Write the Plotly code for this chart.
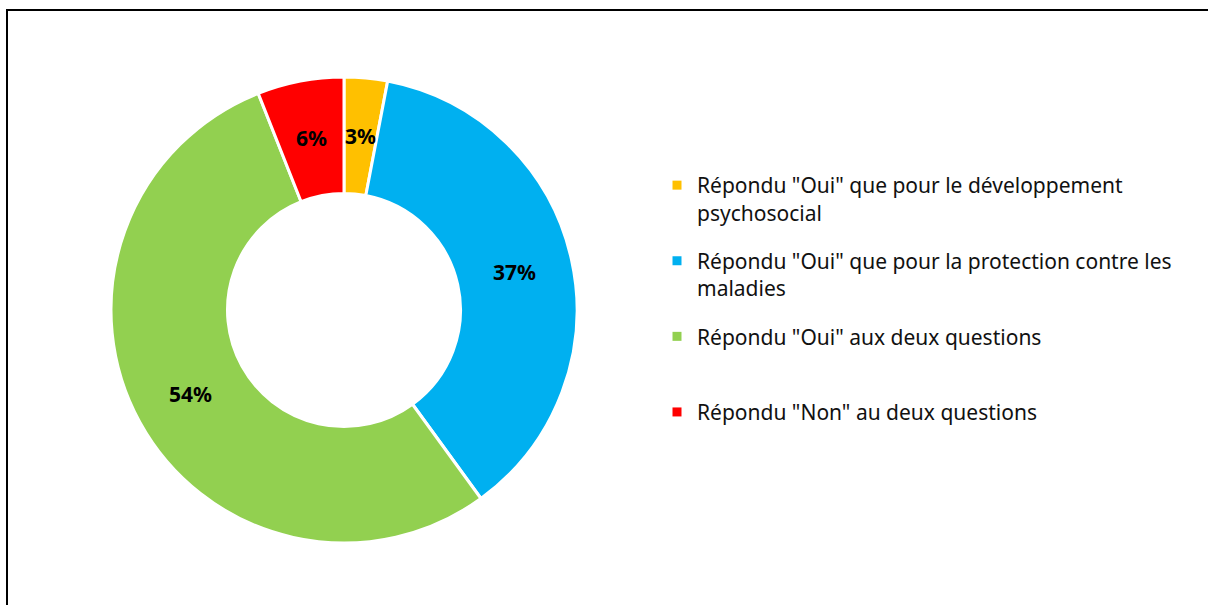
import math
import plotly.graph_objects as go

labels = [
    'Répondu "Oui" que pour le développement<br>psychosocial',
    'Répondu "Oui" que pour la protection contre les<br>maladies',
    'Répondu "Oui" aux deux questions<br> ',
    'Répondu "Non" au deux questions',
]
values = [3, 37, 54, 6]
colors = ["#FFC000", "#00B0F0", "#92D050", "#FF0000"]

W, H = 1208, 605
cx, cy, R = 344, 310, 233
HOLE = 0.5

fig = go.Figure()
fig.add_trace(go.Pie(
    labels=labels,
    values=values,
    sort=False,
    direction="clockwise",
    rotation=0,
    hole=HOLE,
    marker=dict(colors=colors, line=dict(color="white", width=3)),
    textinfo="none",
    hoverinfo="none",
    domain=dict(x=[(cx - R) / W, (cx + R) / W], y=[(H - cy - R) / H, (H - cy + R) / H]),
    showlegend=False,
))

# legend entries
for i, (lab, col) in enumerate(zip(labels, colors)):
    fig.add_trace(go.Scatter(
        x=[None], y=[None], mode="markers", name=lab,
        marker=dict(symbol="square", size=9, color=col),
        legendgroup=f"g{i}", showlegend=True,
    ))

# percentage labels at ring mid radius
total = sum(values)
rmid = R * (1 + HOLE) / 2
annotations = []
cum = 0
for v in values:
    mid = (cum + v / 2) / total * 2 * math.pi
    cum += v
    px = cx + rmid * math.sin(mid)
    py = cy - rmid * math.cos(mid)
    annotations.append(dict(
        x=px / W, y=1 - py / H, xref="paper", yref="paper",
        text=f"<b>{round(v / total * 100)}%</b>", showarrow=False,
        font=dict(family="Noto Sans", size=21, color="black"),
        xanchor="center", yanchor="middle",
    ))

fig.update_layout(
    width=W, height=H,
    margin=dict(l=0, r=0, t=0, b=0),
    paper_bgcolor="white",
    plot_bgcolor="white",
    xaxis=dict(visible=False),
    yaxis=dict(visible=False),
    annotations=annotations,
    legend=dict(
        x=657 / W, xanchor="left",
        y=1 - 165 / H, yanchor="top",
        valign="top",
        font=dict(family="Noto Sans", size=21, color="#111111"),
        traceorder="grouped",
        tracegroupgap=18,
        itemclick=False,
    ),
    shapes=[dict(type="rect", xref="paper", yref="paper",
                 x0=7 / W, x1=1.05, y0=-0.05, y1=1 - 10 / H,
                 line=dict(color="black", width=2))],
)

fig.write_html("out.html", config={"displayModeBar": False},
               post_script="document.body.style.margin='0';")
